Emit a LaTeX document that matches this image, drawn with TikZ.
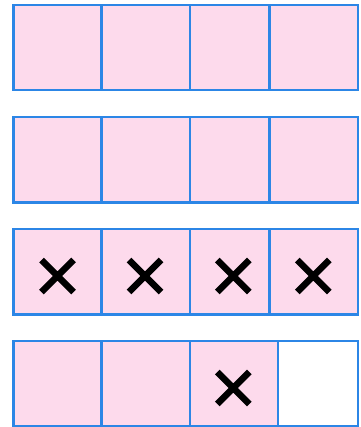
\documentclass[tikz,border=0pt]{standalone}
\definecolor{cellpink}{HTML}{FDDAEC}
\definecolor{cellblue}{HTML}{2C86E6}
\tikzset{
  cell/.style={draw=cellblue, line width=1.6pt, fill=cellpink},
  emptycell/.style={draw=cellblue, line width=1.6pt, fill=white},
  xmark/.style={draw=black, line width=4.9pt, line cap=butt}
}
\newcommand\xmk[2]{\draw[xmark] ({#1-16},{#2-16}) -- ({#1+16},{#2+16}) ({#1-16},{#2+16}) -- ({#1+16},{#2-16});}
\begin{document}
\begin{tikzpicture}[x=0.75pt,y=-0.75pt]
\useasboundingbox (0,0) rectangle (360,427);
\foreach \a/\b in {13.5/101.5,101.5/190,190/269.5,269.5/358}{
  \draw[cell] (\a,5) rectangle (\b,90);
  \draw[cell] (\a,117) rectangle (\b,202.5);
  \draw[cell] (\a,229) rectangle (\b,314.5);
}
\draw[cell] (13.5,341) rectangle (101.5,426);
\draw[cell] (101.5,341) rectangle (190,426);
\draw[cell] (190,341) rectangle (278,426);
\draw[emptycell] (278,341) rectangle (358,426);
\xmk{57.5}{276}
\xmk{145}{276}
\xmk{233.3}{276}
\xmk{313.3}{276}
\xmk{233.3}{388}
\end{tikzpicture}
\end{document}
